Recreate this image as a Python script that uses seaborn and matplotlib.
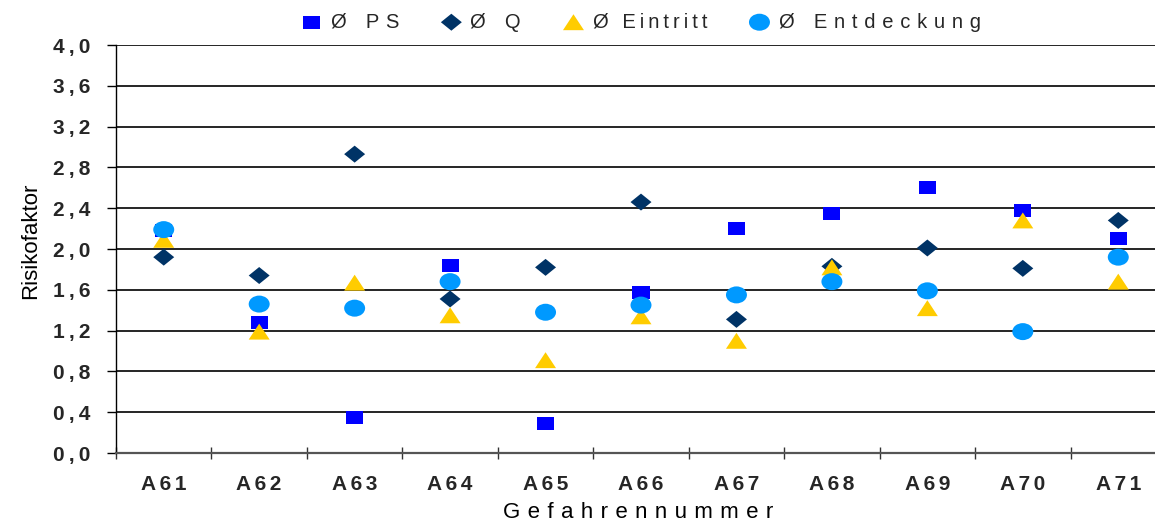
import numpy as np
import pandas as pd
import matplotlib
matplotlib.use("Agg")
import matplotlib.pyplot as plt
from matplotlib.path import Path
import seaborn as sns

# ---------------- data ----------------
categories = ["A61", "A62", "A63", "A64", "A65", "A66", "A67", "A68", "A69", "A70", "A71"]
ps_values = [2.18, 1.28, 0.35, 1.84, 0.29, 1.57, 2.20, 2.35, 2.60, 2.38, 2.10]
q_values = [1.92, 1.74, 2.93, 1.51, 1.82, 2.46, 1.31, 1.83, 2.01, 1.81, 2.28]
eintritt_values = [2.09, 1.19, 1.67, 1.35, 0.91, 1.34, 1.10, 1.82, 1.42, 2.28, 1.68]
entdeckung_values = [2.19, 1.46, 1.42, 1.68, 1.38, 1.45, 1.55, 1.68, 1.59, 1.19, 1.92]
series_names = ["Ø PS", "Ø Q", "Ø Eintritt", "Ø Entdeckung"]
ytick_values = [0.0, 0.4, 0.8, 1.2, 1.6, 2.0, 2.4, 2.8, 3.2, 3.6, 4.0]
ytick_labels = ["0,0", "0,4", "0,8", "1,2", "1,6", "2,0", "2,4", "2,8", "3,2", "3,6", "4,0"]
x_title = "Gefahrennummer"
y_title = "Risikofaktor"

# ---------------- style ----------------
sns.set_theme(style="white")
plt.rcParams["font.family"] = ["Liberation Sans", "DejaVu Sans"]

SP3 = "\u2004"   # three-per-em space
SP6 = "\u2006"   # six-per-em space
SPT = "\u2009"   # thin space


def spaced(text, sep):
    return sep.join(list(text))


def make_path(verts):
    verts = list(verts) + [verts[0]]
    codes = [Path.MOVETO] + [Path.LINETO] * (len(verts) - 2) + [Path.CLOSEPOLY]
    return Path(verts, codes)


square = make_path([(-1, -0.76), (1, -0.76), (1, 0.76), (-1, 0.76)])
diamond = make_path([(-1, 0), (0, -0.81), (1, 0), (0, 0.81)])
triangle = make_path([(-1, -0.76), (1, -0.76), (0, 0.76)])
uc = Path.unit_circle()
ellipse = Path(uc.vertices * np.array([1.0, 0.81]), uc.codes)

colors = ["#0000FF", "#003366", "#FFCC00", "#0099FF"]
markers = [square, diamond, triangle, ellipse]
sizes = [150, 228, 228, 228]

df = pd.DataFrame({
    "Gefahr": categories,
    series_names[0]: ps_values,
    series_names[1]: q_values,
    series_names[2]: eintritt_values,
    series_names[3]: entdeckung_values,
})

fig = plt.figure(figsize=(11.55, 5.23), dpi=100)
ax = fig.add_axes([116 / 1155, 70 / 523, 1050 / 1155, 408 / 523])

for name, col, mk, sz in zip(series_names, colors, markers, sizes):
    sns.scatterplot(data=df, x="Gefahr", y=name, marker=mk, s=sz, color=col,
                    linewidth=0, edgecolor="none", legend=False, ax=ax, zorder=3)

ax.set_xlim(-0.5, 10.5)
ax.set_ylim(0, 4.0)

# y axis
ax.set_yticks(ytick_values)
ax.set_yticklabels([spaced(t, SPT) for t in ytick_labels], fontsize=15, fontweight="bold")
ax.tick_params(axis="y", which="major", direction="out", length=6.5, width=1,
               color="black", pad=12, left=True)
ax.yaxis.grid(True, color="black", linewidth=1.2)
ax.xaxis.grid(False)
ax.set_axisbelow(True)

# x axis
ax.set_xticks(range(len(categories)))
ax.set_xticklabels([spaced(c, SP6) for c in categories], fontsize=15, fontweight="bold")
ax.tick_params(axis="x", which="major", length=0, pad=16, bottom=True)
ax.set_xticks(np.arange(-0.5, len(categories), 1.0), minor=True)
ax.tick_params(axis="x", which="minor", direction="inout", length=8, width=1,
               color="#333333", bottom=True)

for s in ["top", "right"]:
    ax.spines[s].set_visible(False)
ax.spines["left"].set_color("black")
ax.spines["left"].set_linewidth(1.0)
ax.spines["bottom"].set_color("#555555")
ax.spines["bottom"].set_linewidth(1.6)

ax.set_xlabel(spaced(x_title, SP3), fontsize=16, color="black")
ax.xaxis.set_label_coords(0.497, -0.121)
ax.set_ylabel(y_title, fontsize=16, color="black")
ax.yaxis.set_label_coords(-0.0714, 0.52)

handles = ax.collections[:4]
leg_seps = [SP3, SP3, SPT, SP3]
leg_labels = [spaced(n, sp) for n, sp in zip(series_names, leg_seps)]
ax.legend(handles, leg_labels, loc="center", ncol=4, frameon=False,
          bbox_to_anchor=(641 / 1155, 1 - 22 / 523), bbox_transform=fig.transFigure,
          fontsize=14.5, handletextpad=0.45, columnspacing=2.1, handlelength=1.0,
          borderaxespad=0)

fig.savefig("out.png", dpi=100)
